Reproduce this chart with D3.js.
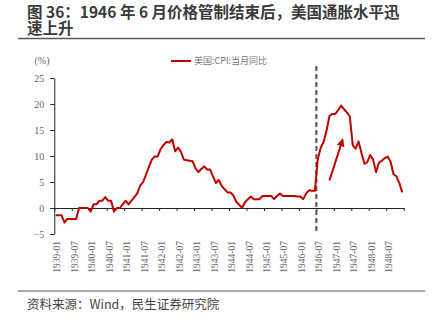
<!DOCTYPE html>
<html><head><meta charset="utf-8">
<script src="https://cdn.jsdelivr.net/npm/d3@7"></script>
<style>
html,body{margin:0;padding:0;background:#fff;}
svg{display:block;}
</style></head>
<body>
<script>
const titleLines = ["图 36：1946 年 6 月价格管制结束后，美国通胀水平迅", "速上升"];
const sourceText = "资料来源：Wind，民生证券研究院";
const seriesName = "美国:CPI:当月同比";
const unitLabel = "(%)";
const tickLabels = ["1939-01","1939-07","1940-01","1940-07","1941-01","1941-07","1942-01","1942-07","1943-01","1943-07","1944-01","1944-07","1945-01","1945-07","1946-01","1946-07","1947-01","1947-07","1948-01","1948-07"];
const yTicks = [-5, 0, 5, 10, 15, 20, 25];
const cpi1939 = [-1.4, -1.4, -1.4, -2.8, -2.1, -2.1, -2.1, -2.1, 0.0, 0.0, 0.0, 0.0];
const cpi1940 = [-0.7, 0.7, 0.7, 1.4, 1.4, 2.1, 1.4, 1.4, -0.7, 0.0, 0.0, 0.7];
const cpi1941 = [1.4, 0.7, 1.4, 2.1, 2.8, 4.3, 5.0, 6.4, 7.9, 9.3, 9.9, 9.9];
const cpi1942 = [11.3, 12.1, 12.7, 12.6, 13.2, 10.9, 11.6, 10.8, 9.3, 9.2, 9.1, 9.0];
const cpi1943 = [7.6, 6.9, 7.5, 8.0, 7.4, 7.4, 6.1, 4.8, 5.4, 4.2, 3.6, 3.0];
const cpi1944 = [3.0, 2.4, 1.2, 0.6, 0.0, 1.1, 1.7, 2.2, 1.7, 1.7, 1.7, 2.3];
const cpi1945 = [2.3, 2.3, 2.3, 1.7, 2.3, 2.8, 2.3, 2.3, 2.3, 2.3, 2.3, 2.2];
const cpi1946 = [2.2, 1.7, 2.8, 3.4, 3.3, 3.3, 9.4, 11.6, 12.7, 14.9, 17.7, 18.1];
const cpi1947 = [18.1, 18.8, 19.7, 19.0, 18.4, 17.6, 12.1, 11.4, 12.8, 10.6, 8.5, 8.8];
const cpi1948 = [10.2, 9.3, 6.9, 8.7, 9.1, 9.6, 9.9, 8.9, 6.5, 6.1, 4.8, 3.0];
const cpiValues = [].concat(cpi1939, cpi1940, cpi1941, cpi1942, cpi1943, cpi1944, cpi1945, cpi1946, cpi1947, cpi1948);
const controlEndIndex = 90; // 1946-07
const arrowFrom = [94.5, 5.3];
const arrowTo = [99, 13.1];

const W = 433, H = 324;
const svg = d3.select("body").append("svg").attr("width", W).attr("height", H);

// Title
const title = svg.append("text")
  .attr("font-family", "'Noto Sans CJK SC', sans-serif")
  .attr("font-weight", "bold").attr("font-size", 15.5).attr("fill", "#3a3a3a");
titleLines.forEach((t, i) => {
  title.append("tspan").attr("x", 27).attr("y", 18 + i * 16).text(t);
});
svg.append("line").attr("x1", 18).attr("x2", 425).attr("y1", 38.5).attr("y2", 38.5)
  .attr("stroke", "#555").attr("stroke-width", 1.5);

// Footer
svg.append("line").attr("x1", 18).attr("x2", 425).attr("y1", 291).attr("y2", 291)
  .attr("stroke", "#555").attr("stroke-width", 1.2);
svg.append("text").attr("x", 27).attr("y", 309)
  .attr("font-family", "'Noto Sans CJK SC', sans-serif").attr("font-size", 12.5)
  .attr("fill", "#444").text(sourceText);

// Scales
const x = d3.scaleLinear().domain([0, 120]).range([54.3, 403.7]);
const y = d3.scaleLinear().domain([-5, 25]).range([234, 78]);

// Y axis
const yAxis = svg.append("g").attr("transform", `translate(${x(0)},0)`)
  .call(d3.axisLeft(y).tickValues(yTicks).tickSize(4).tickSizeOuter(0).tickPadding(6));
yAxis.select(".domain").attr("stroke", "#222");
yAxis.selectAll(".tick line").attr("stroke", "#222");
yAxis.selectAll(".tick text").attr("font-family", "'Liberation Serif', serif")
  .attr("font-size", 10).attr("fill", "#666");

svg.append("text").attr("x", 42).attr("y", 64).attr("text-anchor", "middle")
  .attr("font-family", "'Liberation Serif', serif").attr("font-size", 10).attr("fill", "#666")
  .text(unitLabel);

// X axis at zero
const xTickVals = d3.range(0, 121, 6);
const xAxis = svg.append("g").attr("transform", `translate(0,${y(0)})`)
  .call(d3.axisBottom(x).tickValues(xTickVals).tickSize(3).tickSizeOuter(0)
    .tickFormat(v => tickLabels[v / 6] || ""));
xAxis.select(".domain").attr("stroke", "#222");
xAxis.selectAll(".tick line").attr("stroke", "#222");
xAxis.selectAll(".tick text")
  .attr("font-family", "'Liberation Serif', serif").attr("font-size", 9.5).attr("fill", "#666")
  .attr("text-anchor", "end")
  .attr("transform", `translate(2.5,${y(-5) - y(0) + 7}) rotate(-90)`)
  .attr("x", 0).attr("y", 0).attr("dy", "0.32em");

// Dashed control end line
svg.append("line").attr("x1", x(controlEndIndex)).attr("x2", x(controlEndIndex))
  .attr("y1", 66).attr("y2", 231)
  .attr("stroke", "#555").attr("stroke-width", 2).attr("stroke-dasharray", "5,3");

// Series line
const line = d3.line().x((d, i) => x(i + 0.5)).y(d => y(d));
svg.append("path").datum(cpiValues).attr("d", line)
  .attr("fill", "none").attr("stroke", "#c00000").attr("stroke-width", 2)
  .attr("stroke-linejoin", "round");

// Arrow
const defs = svg.append("defs");
defs.append("marker").attr("id", "ah").attr("viewBox", "0 0 10 10")
  .attr("refX", 8).attr("refY", 5).attr("markerWidth", 4).attr("markerHeight", 4)
  .attr("orient", "auto")
  .append("path").attr("d", "M0,0 L10,5 L0,10 Z").attr("fill", "#c00000");
svg.append("line")
  .attr("x1", x(arrowFrom[0])).attr("y1", y(arrowFrom[1]))
  .attr("x2", x(arrowTo[0])).attr("y2", y(arrowTo[1]))
  .attr("stroke", "#c00000").attr("stroke-width", 2).attr("marker-end", "url(#ah)");

// Legend
svg.append("line").attr("x1", 171).attr("x2", 191).attr("y1", 61).attr("y2", 61)
  .attr("stroke", "#c00000").attr("stroke-width", 2);
svg.append("text").attr("x", 194).attr("y", 64)
  .attr("font-family", "'Noto Sans CJK SC', sans-serif").attr("font-size", 9).attr("fill", "#777")
  .text(seriesName);
</script>
</body></html>
